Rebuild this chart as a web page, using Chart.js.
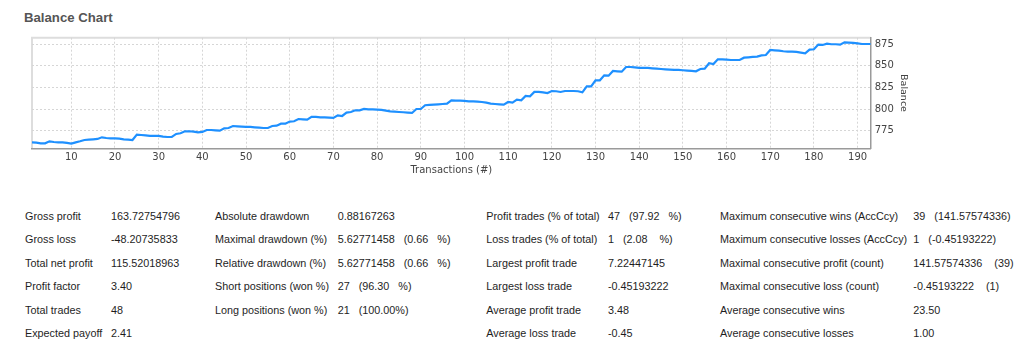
<!DOCTYPE html>
<html>
<head>
<meta charset="utf-8">
<script src="https://cdn.jsdelivr.net/npm/chart.js@4.4.1/dist/chart.umd.min.js"></script>
<style>
  html, body { margin: 0; padding: 0; background: #ffffff; width: 1024px; height: 357px; overflow: hidden; }
  #title { position: absolute; left: 24px; top: 10px; font: bold 13.2px "Liberation Sans", Arial, sans-serif; color: #555555; line-height: 16px; }
  #wrap { position: absolute; left: 0; top: 0; width: 1024px; height: 180px; }
  #c { display: block; width: 1024px; height: 180px; }
  .st { position: absolute; font: 10.8px "Liberation Sans", Arial, sans-serif; color: #1e1e1e; line-height: 14px; white-space: pre; }
</style>
</head>
<body>
<div id="title">Balance Chart</div>
<div id="wrap"><canvas id="c" width="1024" height="180"></canvas></div>
<div id="stats"></div>
<script>
// ---- data ----
const balance = [
  761.5, 761.2, 760.4, 760.4, 762.7, 761.9, 761.5, 761.5, 760.8, 760.0,
  761.5, 762.7, 764.2, 764.6, 765.0, 765.4, 767.3, 766.5, 766.1, 766.1,
  765.8, 765.0, 764.6, 764.2, 770.4, 770.0, 769.6, 768.9, 768.9, 768.9,
  768.1, 767.7, 767.7, 771.2, 772.0, 774.3, 774.3, 773.9, 773.1, 773.5,
  775.8, 775.8, 775.4, 775.0, 777.7, 778.1, 780.4, 780.0, 779.7, 779.3,
  779.3, 778.9, 778.5, 778.1, 778.1, 780.4, 780.8, 783.1, 783.1, 785.5,
  785.9, 788.5, 788.1, 787.7, 790.9, 790.9, 790.5, 790.5, 790.1, 789.7,
  792.8, 792.0, 795.9, 796.6, 798.6, 798.6, 800.1, 799.7, 799.7, 799.3,
  799.0, 798.2, 797.4, 797.0, 796.6, 796.3, 795.9, 795.5, 800.1, 800.1,
  804.4, 804.8, 805.1, 805.5, 805.9, 806.3, 810.1, 809.8, 809.8, 809.4,
  809.0, 809.0, 808.6, 808.2, 807.4, 806.3, 805.9, 805.5, 805.1, 808.2,
  807.4, 810.9, 810.1, 815.2, 814.8, 819.8, 819.8, 819.4, 818.6, 820.9,
  820.6, 819.8, 820.9, 820.9, 820.9, 820.6, 819.4, 826.3, 826.3, 833.3,
  833.3, 839.1, 838.7, 844.1, 843.7, 843.3, 848.7, 848.7, 848.3, 847.6,
  847.6, 847.6, 847.2, 846.8, 846.4, 846.0, 845.6, 845.3, 845.3, 844.9,
  844.5, 844.1, 843.7, 846.4, 846.8, 853.0, 852.2, 857.6, 857.6, 857.2,
  856.8, 856.8, 856.8, 859.5, 859.9, 860.3, 860.7, 862.2, 862.6, 868.4,
  868.0, 867.6, 866.9, 866.5, 866.5, 866.1, 865.3, 864.5, 868.8, 869.2,
  874.6, 874.2, 875.7, 875.0, 875.0, 874.6, 877.3, 876.9, 876.5, 876.1,
  875.3, 875.3, 875.3
];
const transactions = balance.map((_, i) => i + 1);
const xTitle = "Transactions (#)";
const yTitle = "Balance";

const statLabels1 = ["Gross profit", "Gross loss", "Total net profit", "Profit factor", "Total trades", "Expected payoff"];
const statValues1 = ["163.72754796", "-48.20735833", "115.52018963", "3.40", "48", "2.41"];
const statLabels2 = ["Absolute drawdown", "Maximal drawdown (%)", "Relative drawdown (%)", "Short positions (won %)", "Long positions (won %)"];
const statValues2 = ["0.88167263", "5.62771458   (0.66   %)", "5.62771458   (0.66   %)", "27   (96.30   %)", "21   (100.00%)"];
const statLabels3 = ["Profit trades (% of total)", "Loss trades (% of total)", "Largest profit trade", "Largest loss trade", "Average profit trade", "Average loss trade"];
const statValues3 = ["47   (97.92   %)", "1   (2.08    %)", "7.22447145", "-0.45193222", "3.48", "-0.45"];
const statLabels4 = ["Maximum consecutive wins (AccCcy)", "Maximum consecutive losses (AccCcy)", "Maximal consecutive profit (count)", "Maximal consecutive loss (count)", "Average consecutive wins", "Average consecutive losses"];
const statValues4 = ["39   (141.57574336)", "1   (-0.45193222)", "141.57574336    (39)", "-0.45193222    (1)", "23.50", "1.00"];

// ---- stats layout ----
const statColumns = [
  { labels: statLabels1, values: statValues1, lx: 25, vx: 111 },
  { labels: statLabels2, values: statValues2, lx: 215, vx: 337.7 },
  { labels: statLabels3, values: statValues3, lx: 486.3, vx: 607.9 },
  { labels: statLabels4, values: statValues4, lx: 720, vx: 913.3 }
];
const rowY0 = 216, rowStep = 23.45;
const statsEl = document.getElementById('stats');
statColumns.forEach(col => {
  col.labels.forEach((lab, i) => {
    const cy = rowY0 + rowStep * i;
    const a = document.createElement('div');
    a.className = 'st'; a.textContent = lab;
    a.style.left = col.lx + 'px'; a.style.top = (cy - 7) + 'px';
    statsEl.appendChild(a);
    const b = document.createElement('div');
    b.className = 'st'; b.textContent = col.values[i];
    b.style.left = col.vx + 'px'; b.style.top = (cy - 7) + 'px';
    statsEl.appendChild(b);
  });
});

// ---- chart ----
const framePlugin = {
  id: 'frame',
  beforeDraw(chart) {
    const { ctx, chartArea: a } = chart;
    ctx.save();
    ctx.strokeStyle = '#dddddd';
    ctx.lineWidth = 2;
    ctx.beginPath();
    ctx.moveTo(a.left, a.bottom);
    ctx.lineTo(a.left, a.top);
    ctx.lineTo(a.right, a.top);
    ctx.stroke();
    ctx.restore();
  }
};

const tickFont = { family: '"DejaVu Sans", sans-serif', size: 10 };

new Chart(document.getElementById('c'), {
  type: 'line',
  data: {
    datasets: [{
      data: transactions.map((t, i) => ({ x: t, y: balance[i] })),
      borderColor: '#1e90ff',
      borderWidth: 2.2,
      pointRadius: 0,
      tension: 0,
      fill: false
    }]
  },
  options: {
    responsive: false,
    maintainAspectRatio: false,
    animation: false,
    devicePixelRatio: 1,
    layout: { padding: { left: 32, top: 37.7, right: 111.3, bottom: 0 } },
    plugins: { legend: { display: false }, tooltip: { enabled: false } },
    scales: {
      x: {
        type: 'linear',
        min: 1, max: 193,
        afterFit: s => { s.height = 31.7; },
        ticks: { stepSize: 10, includeBounds: false, autoSkip: false, maxRotation: 0, padding: 3, color: '#444444', font: tickFont },
        grid: { color: '#d6d6d6', drawTicks: false },
        border: { color: '#9a9a9a', width: 1.5, dash: [2, 2] },
        title: { display: true, text: xTitle, color: '#444444', font: tickFont, padding: { top: 4, bottom: 4 } }
      },
      y: {
        type: 'linear',
        position: 'right',
        min: 754.6, max: 882.6,
        afterFit: s => { s.width = 42; },
        ticks: { stepSize: 25, includeBounds: false, padding: 4, color: '#444444', font: tickFont },
        grid: { color: '#d6d6d6', drawTicks: false },
        border: { color: '#9a9a9a', width: 1.5, dash: [2, 2] },
        title: { display: true, text: yTitle, color: '#444444', font: { family: '"DejaVu Sans", sans-serif', size: 9.5 }, padding: { top: 4, bottom: 4 } }
      }
    }
  },
  plugins: [framePlugin]
});
</script>
</body>
</html>
